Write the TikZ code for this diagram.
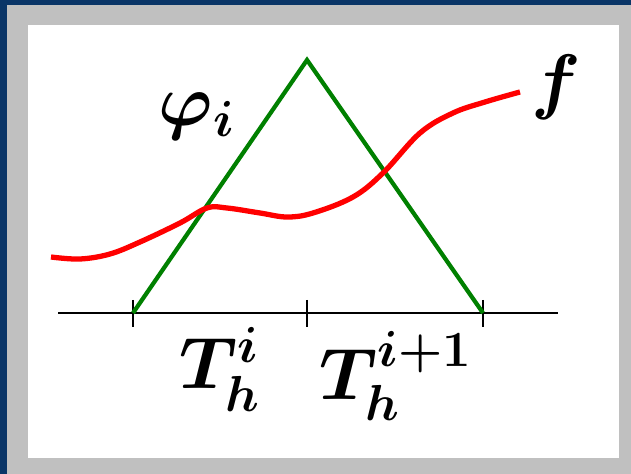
\documentclass[tikz,border=0pt]{standalone}
\usepackage{amsmath,bm}
\definecolor{slideblue}{RGB}{10,53,103}
\definecolor{framegray}{RGB}{192,192,192}
\definecolor{hatgreen}{RGB}{0,128,0}
\begin{document}
\begin{tikzpicture}[x=0.01cm, y=-0.01cm,
    lbl/.style={inner sep=0pt, font=\fontsize{20}{24}\selectfont\boldmath}]
  \fill[slideblue] (0,0) rectangle (631,474);
  \fill[framegray] (7,5) rectangle (631,474);
  \fill[white] (28,25) rectangle (619,458);
  \draw[line width=0.8pt] (58,313) -- (558,313);
  \foreach \x/\n in {133/left, 307/mid, 483/right} {
    \coordinate (\n) at (\x,313);
    \draw[line width=0.8pt] (\x,300) -- (\x,327);
  }
  \coordinate (top) at (307,60);
  \draw[hatgreen, line width=1.2pt] (left) -- (top) -- (right);
  \draw[red, line width=1.5pt] plot[smooth, tension=0.6] coordinates {
    (51,257) (80,259) (110,254) (140,242) (180,223) (207,208) (227,208)
    (260,213) (287,217) (313,213) (353,197) (383,173) (420,133) (453,113)
    (485,102) (520,92)};
  \node (phi) [lbl, font=\fontsize{21}{24}\selectfont\boldmath] at (197,116) {$\varphi_i$};
  \node (f) [lbl] at (556,87) {$f$};
  \node (Ti) [lbl] at (220,369) {$T_h^i$};
  \node (Tii) [lbl] at (396,376) {$T_h^{i+1}$};
\end{tikzpicture}
\end{document}
